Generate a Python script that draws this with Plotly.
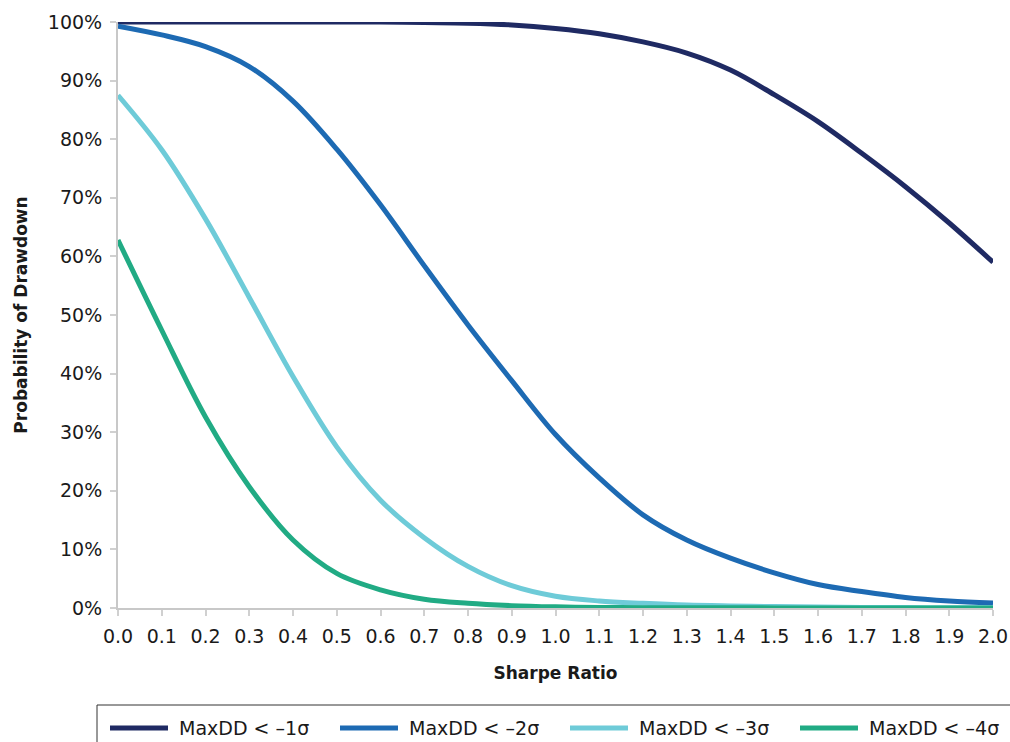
import plotly.graph_objects as go

sharpe = [0.0, 0.1, 0.2, 0.3, 0.4, 0.5, 0.6, 0.7, 0.8, 0.9, 1.0,
          1.1, 1.2, 1.3, 1.4, 1.5, 1.6, 1.7, 1.8, 1.9, 2.0]

dd_1sigma = [100.0, 100.0, 100.0, 100.0, 100.0, 100.0, 100.0, 99.9, 99.8, 99.5, 98.9,
             98.0, 96.6, 94.7, 91.8, 87.6, 83.0, 77.6, 71.9, 65.7, 59.0]
dd_2sigma = [99.3, 97.8, 95.8, 92.4, 86.5, 78.3, 68.8, 58.4, 48.3, 38.8, 29.6,
             22.2, 15.9, 11.6, 8.5, 6.0, 4.0, 2.8, 1.8, 1.2, 0.85]
dd_3sigma = [87.5, 78.2, 66.4, 53.0, 39.5, 27.5, 18.4, 12.0, 7.1, 3.8, 2.0,
             1.2, 0.8, 0.5, 0.35, 0.25, 0.15, 0.1, 0.07, 0.05, 0.03]
dd_4sigma = [62.8, 47.4, 32.6, 20.7, 11.6, 5.9, 3.1, 1.5, 0.8, 0.4, 0.2,
             0.1, 0.06, 0.04, 0.03, 0.02, 0.01, 0.01, 0.01, 0.01, 0.01]

series_names = ["MaxDD < \u20131\u03c3", "MaxDD < \u20132\u03c3",
                "MaxDD < \u20133\u03c3", "MaxDD < \u20134\u03c3"]
series_values = [dd_1sigma, dd_2sigma, dd_3sigma, dd_4sigma]
series_colors = ["#1f2a63", "#1d6ab3", "#6ecbd8", "#21ab84"]

x_ticks = [round(i * 0.1, 1) for i in range(21)]
y_ticks = list(range(0, 101, 10))

# ---- layout geometry (pixels) ----
W, H = 1010, 742
ML, MR, MT, MB = 118, 17, 22, 134
PW, PH = W - ML - MR, H - MT - MB


def xp(px):
    return (px - ML) / PW


def yp(py):
    return (H - MB - py) / PH


FONT = "DejaVu Sans, Verdana, sans-serif"
TXT = "#1a1a1a"

fig = go.Figure()
for name, vals, col in zip(series_names, series_values, series_colors):
    fig.add_trace(go.Scatter(
        x=sharpe, y=vals, name=name, mode="lines",
        line=dict(color=col, width=5, shape="spline", smoothing=1.0),
        showlegend=False,
    ))

# ---- custom legend (box, line samples, labels) ----
shapes = [dict(type="rect", xref="paper", yref="paper",
               x0=xp(97), x1=xp(1013), y0=yp(746), y1=yp(705),
               line=dict(color="#333333", width=1), fillcolor="rgba(0,0,0,0)")]
annotations = []
leg_y = 728
for i, (name, col) in enumerate(zip(series_names, series_colors)):
    x0 = 110 + 230 * i
    shapes.append(dict(type="line", xref="paper", yref="paper",
                       x0=xp(x0), x1=xp(x0 + 58), y0=yp(leg_y), y1=yp(leg_y),
                       line=dict(color=col, width=5)))
    annotations.append(dict(xref="paper", yref="paper", x=xp(x0 + 67), y=yp(leg_y),
                            xanchor="left", yanchor="middle", showarrow=False,
                            text=name, font=dict(family=FONT, size=19, color=TXT)))

tick_font = dict(family=FONT, size=19, color=TXT)
title_font = dict(family=FONT, size=17, color=TXT)

fig.update_layout(
    width=W, height=H,
    margin=dict(l=ML, r=MR, t=MT, b=MB),
    paper_bgcolor="white", plot_bgcolor="white",
    font=dict(family=FONT, color=TXT),
    showlegend=False,
    shapes=shapes,
    annotations=annotations,
    xaxis=dict(
        range=[0, 2.0], automargin=False,
        tickmode="array", tickvals=x_ticks, ticktext=[f"{v:.1f}" for v in x_ticks],
        showgrid=False, zeroline=False,
        showline=True, linecolor="#c8c8c8", linewidth=2,
        ticks="outside", ticklen=6, tickwidth=2, tickcolor="#d0d0d0",
        ticklabelstandoff=4,
        tickfont=tick_font,
        title=dict(text="<b>Sharpe Ratio</b>", standoff=21, font=title_font),
    ),
    yaxis=dict(
        range=[0, 100], automargin=False,
        tickmode="array", tickvals=y_ticks, ticktext=[f"{v}%" for v in y_ticks],
        showgrid=False, zeroline=False,
        showline=True, linecolor="#c8c8c8", linewidth=2,
        ticks="outside", ticklen=6, tickwidth=2, tickcolor="#d0d0d0",
        ticklabelstandoff=4,
        tickfont=tick_font,
        title=dict(text="<b>Probability of Drawdown</b>", standoff=16, font=title_font),
    ),
)

fig.write_html("out.html", config={"displayModeBar": False},
               post_script="document.body.style.margin='0';")
